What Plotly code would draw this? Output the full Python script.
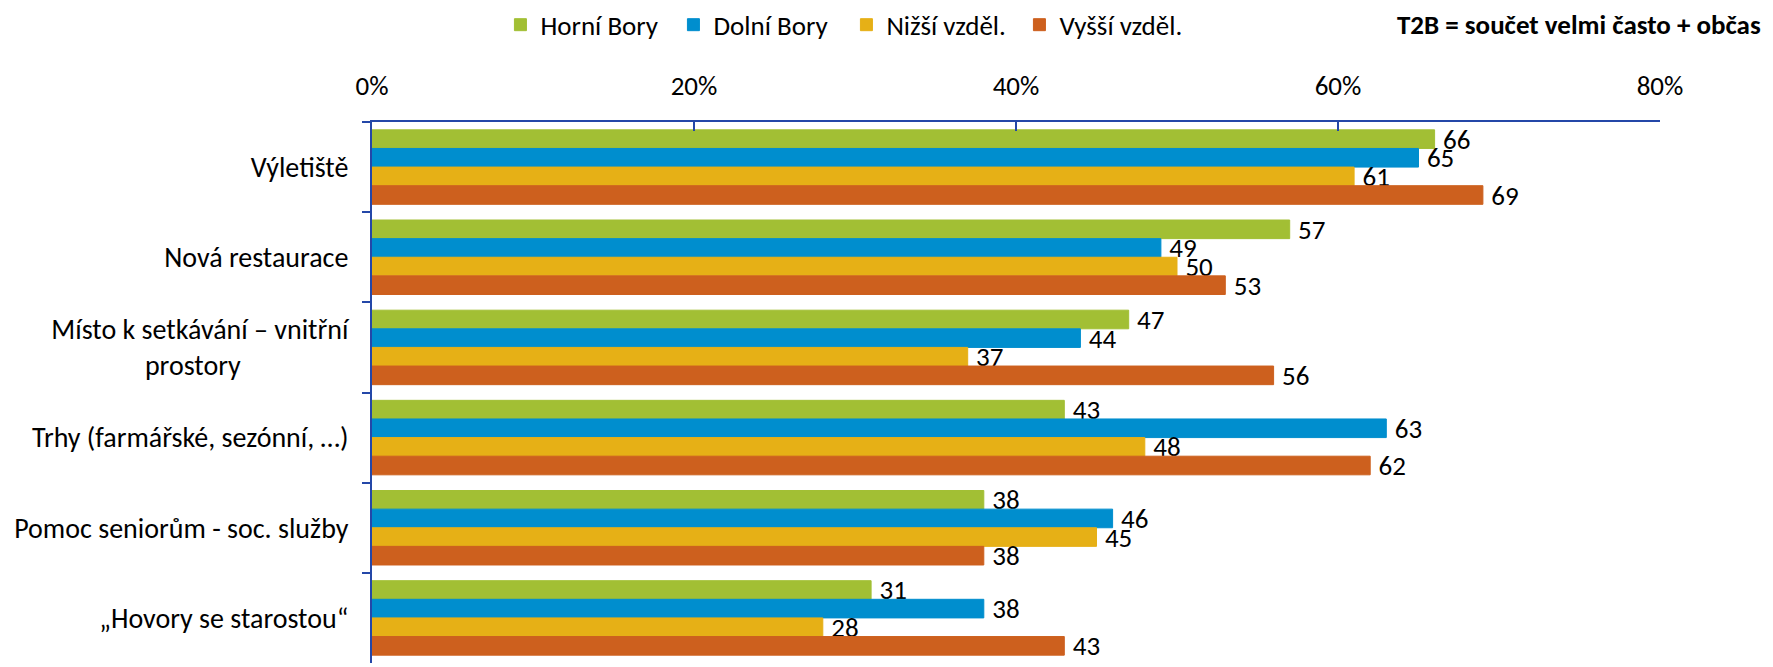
import plotly.graph_objects as go

categories = [
    "Výletiště",
    "Nová restaurace",
    "Místo k setkávání – vnitřní<br>prostory" + "\u00a0" * 17,
    "Trhy (farmářské, sezónní, …)",
    "Pomoc seniorům - soc. služby",
    "„Hovory se starostou“",
]
series_names = ["Horní Bory", "Dolní Bory", "Nižší vzděl.", "Vyšší vzděl."]
horni_bory = [66, 57, 47, 43, 38, 31]
dolni_bory = [65, 49, 44, 63, 46, 38]
nizsi_vzdel = [61, 50, 37, 48, 45, 28]
vyssi_vzdel = [69, 53, 56, 62, 38, 43]
x_ticks = [0, 20, 40, 60, 80]
x_tick_labels = ["0%", "20%", "40%", "60%", "80%"]
note_text = "T2B = součet velmi často + občas"

colors = ["#A2BF34", "#008ECE", "#E6B016", "#CD601E"]
FONT = "Carlito, Lato, sans-serif"

fig = go.Figure()
for name, vals, col in zip(series_names, [horni_bory, dolni_bory, nizsi_vzdel, vyssi_vzdel], colors):
    fig.add_trace(go.Bar(
        y=categories, x=vals, name=name, orientation="h",
        marker=dict(color=col, line=dict(color=col, width=1)),
        text=[str(v) for v in vals], texttemplate="\u2009%{text}", textposition="outside",
        textfont=dict(size=27, color="black", family=FONT),
        constraintext="none", cliponaxis=False,
    ))

fig.update_layout(
    width=1765, height=659,
    margin=dict(l=364, r=113, t=114, b=4, autoexpand=False),
    paper_bgcolor="white", plot_bgcolor="white",
    barmode="group", bargap=0.174, bargroupgap=0,
    font=dict(family=FONT, size=27, color="black"),
    showlegend=True,
    legend=dict(orientation="h", xref="container", yref="container", x=0.279, xanchor="left",
                y=0.974, yanchor="middle",
                font=dict(size=27, family=FONT), entrywidth=128, entrywidthmode="pixels",
                traceorder="normal", bgcolor="rgba(0,0,0,0)"),
    xaxis=dict(side="top", range=[0, 80], tickmode="array", tickvals=x_ticks, ticktext=x_tick_labels,
               showgrid=False, zeroline=False, showline=True, linecolor="#2447A8", linewidth=2,
               ticks="inside", ticklen=9, tickcolor="#2447A8", tickwidth=2,
               ticklabelstandoff=14, tickfont=dict(size=27, family=FONT), automargin=False),
    yaxis=dict(range=[5.5, -0.5], showgrid=False, zeroline=False, showline=True,
               linecolor="#2447A8", linewidth=2, ticks="outside", ticklen=8,
               tickcolor="#2447A8", tickwidth=2, tickson="boundaries",
               ticklabelstandoff=16, tickfont=dict(size=28, family=FONT), automargin=False),
    annotations=[dict(text="<b>" + note_text + "</b>", xref="paper", yref="paper",
                      x=1.080, y=1.1793, xanchor="right", yanchor="middle", showarrow=False,
                      font=dict(size=27, family=FONT, color="black"))],
)

fig.write_html("out.html")
